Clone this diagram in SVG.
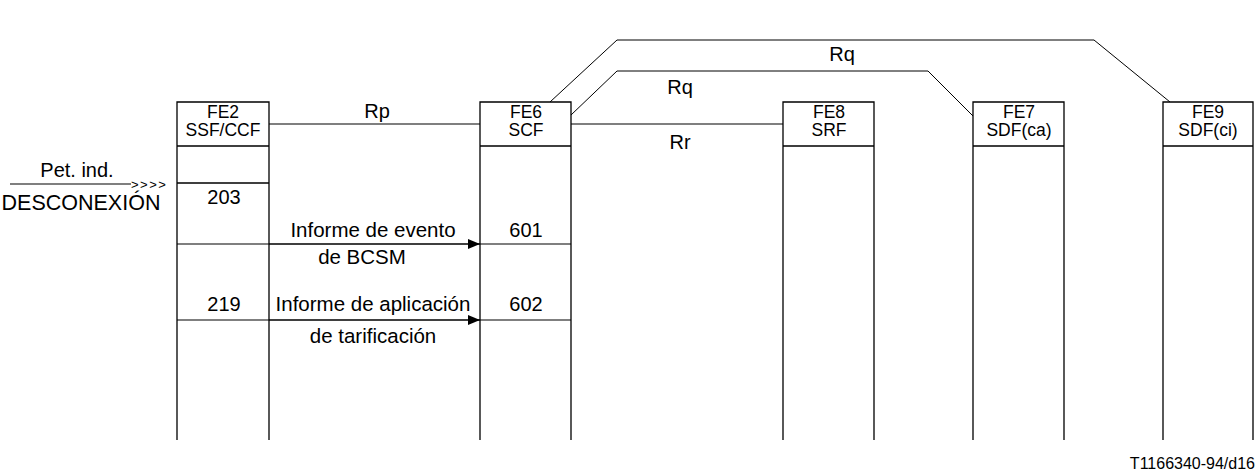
<svg xmlns="http://www.w3.org/2000/svg" width="1259" height="473" viewBox="0 0 1259 473">
<style>
text{font-family:"Liberation Sans",Arial,sans-serif;fill:#000}
.lbl{font-size:17.5px;text-anchor:middle}
.msg{font-size:20px;text-anchor:middle}
.box{fill:none;stroke:#000;stroke-width:1.3}
.ln{fill:none;stroke:#000;stroke-width:1.2}
.thin{fill:none;stroke:#000;stroke-width:1}
</style>
<defs>
<marker id="arr" markerWidth="12" markerHeight="10" refX="12" refY="5" orient="auto" markerUnits="userSpaceOnUse">
<path d="M0,0 L12,5 L0,10 Z" fill="#000"/>
</marker>
</defs>
<rect width="1259" height="473" fill="#fff"/>
<g id="fe2">
<path class="box" d="M177,440 V102 H269 V440 M177,146 H269 M177,183 H269"/>
<text class="lbl" x="223" y="118">FE2</text>
<text class="lbl" x="223" y="136">SSF/CCF</text>
<text class="msg" x="224" y="204">203</text>
<text class="msg" x="224" y="311">219</text>
</g>
<g id="fe6">
<path class="box" d="M480,440 V102 H571 V440 M480,146 H571"/>
<text class="lbl" x="526" y="118">FE6</text>
<text class="lbl" x="526" y="136">SCF</text>
<text class="msg" x="526" y="237">601</text>
<text class="msg" x="526" y="311">602</text>
</g>
<g id="fe8">
<path class="box" d="M783,440 V102 H874 V440 M783,146 H874"/>
<text class="lbl" x="829" y="118">FE8</text>
<text class="lbl" x="829" y="136">SRF</text>
</g>
<g id="fe7">
<path class="box" d="M973,440 V102 H1064 V440 M973,146 H1064"/>
<text class="lbl" x="1019" y="118">FE7</text>
<text class="lbl" x="1019" y="136">SDF(ca)</text>
</g>
<g id="fe9">
<path class="box" d="M1163,440 V102 H1253 V440 M1163,146 H1253"/>
<text class="lbl" x="1208" y="118">FE9</text>
<text class="lbl" x="1208" y="136">SDF(ci)</text>
</g>
<g id="connectors">
<path class="ln" d="M269,124 H480"/>
<path class="ln" d="M571,124 H783"/>
<path class="thin" d="M550,102 L617,40 H1094 L1170,102"/>
<path class="thin" d="M571,115 L617,71 H928 L973,116"/>
<path class="ln" d="M177,244 H571"/>
<path class="ln" d="M269,244 H480" marker-end="url(#arr)"/>
<path class="ln" d="M177,320 H571"/>
<path class="ln" d="M269,320 H480" marker-end="url(#arr)"/>
<path class="ln" d="M10,184 H131"/>
</g>
<g id="labels">
<text class="msg" x="842" y="61">Rq</text>
<text class="msg" x="680" y="94">Rq</text>
<text class="msg" x="377" y="118">Rp</text>
<text class="msg" x="680" y="149">Rr</text>
<text class="msg" x="373" y="237" style="font-size:20.5px">Informe de evento</text>
<text class="msg" x="362" y="264" style="font-size:20.5px">de BCSM</text>
<text class="msg" x="373" y="311" style="font-size:20.5px">Informe de aplicación</text>
<text class="msg" x="373" y="343" style="font-size:20.5px">de tarificación</text>
<text class="msg" x="77" y="177">Pet. ind.</text>
<text x="131" y="189" style="font-size:13px;letter-spacing:1.5px">&gt;&gt;&gt;&gt;</text>
<text class="msg" x="81" y="210" style="font-size:21.5px">DESCONEXIÓN</text>
<text x="1255" y="469" style="font-size:16px;text-anchor:end">T1166340-94/d16</text>
</g>
</svg>
